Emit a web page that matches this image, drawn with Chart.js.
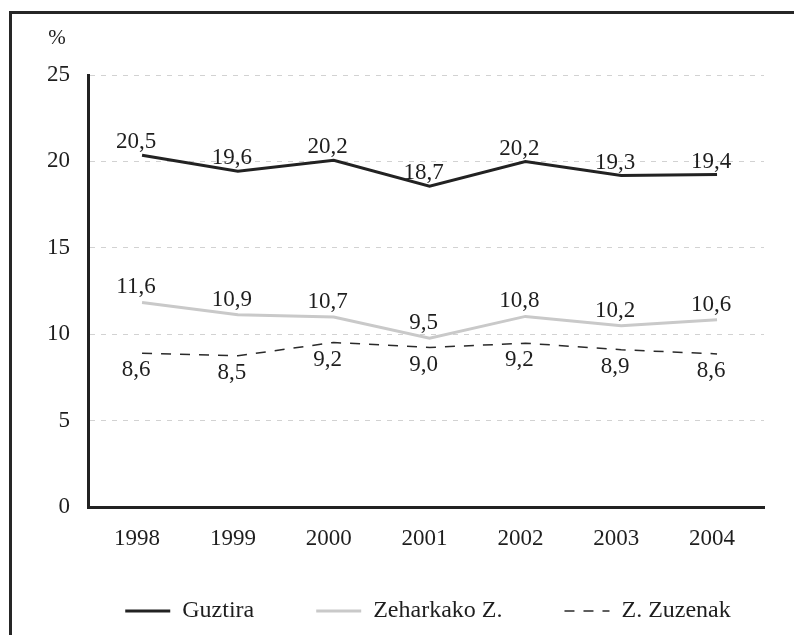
<!DOCTYPE html>
<html>
<head>
<meta charset="utf-8">
<script src="https://cdn.jsdelivr.net/npm/chart.js@4.4.1/dist/chart.umd.min.js"></script>
<style>
  html, body { margin: 0; padding: 0; background: #fff; overflow: hidden; }
  #frame { position: absolute; left: 9px; top: 11px; width: 2000px; height: 2000px;
           border-left: 3px solid #262626; border-top: 3px solid #262626; }
  #insertchart { position: absolute; left: 0; top: 0; }
</style>
</head>
<body>
<div id="frame"></div>
<canvas id="insertchart" width="794" height="635"></canvas>
<script>
var years = [1998, 1999, 2000, 2001, 2002, 2003, 2004];
// where the lines sit in the picture
var guztira    = [20.35, 19.43, 20.06, 18.56, 19.99, 19.18, 19.24];
var zeharkako  = [11.84, 11.12, 10.99, 9.77, 11.03, 10.49, 10.83];
var zuzenak    = [8.90, 8.75, 9.52, 9.23, 9.48, 9.10, 8.86];
// the printed values
var guztiraLbl   = [20.5, 19.6, 20.2, 18.7, 20.2, 19.3, 19.4];
var zeharkakoLbl = [11.6, 10.9, 10.7, 9.5, 10.8, 10.2, 10.6];
var zuzenakLbl   = [8.6, 8.5, 9.2, 9.0, 9.2, 8.9, 8.6];
var yTicks = [0, 5, 10, 15, 20, 25];

var serif = "'Liberation Serif', 'DejaVu Serif', serif";

function pts(vals) {
  return vals.map(function (v, i) { return {x: years[i], y: v}; });
}
function fmt(v) { return v.toFixed(1).replace('.', ','); }

var valueLabels = {
  id: 'valueLabels',
  afterDatasetsDraw: function (chart) {
    var ctx = chart.ctx;
    var sets = [guztiraLbl, zeharkakoLbl, zuzenakLbl];
    var dy = [-13, -15, 17];
    ctx.save();
    ctx.font = '23px ' + serif;
    ctx.fillStyle = '#1e1e1e';
    ctx.textAlign = 'center';
    ctx.textBaseline = 'middle';
    sets.forEach(function (lbls, d) {
      chart.getDatasetMeta(d).data.forEach(function (el, i) {
        ctx.fillText(fmt(lbls[i]), el.x - 6, el.y + dy[d]);
      });
    });
    // unit over the y axis
    ctx.font = '21px ' + serif;
    ctx.fillText('%', 57, 38);
    ctx.restore();
  }
};

// move the legend row to the right like the original, and give the
// year labels room so they are not clipped
var layoutFix = {
  id: 'layoutFix',
  afterLayout: function (chart) {
    chart.legend.left += 46;
    chart.legend.right += 46;
    chart.scales.x.bottom = chart.scales.x.top + 60;
  }
};

var ctx = document.getElementById("insertchart").getContext('2d');
var myLineChart = new Chart(ctx, {
  type: 'line',
  data: {
    datasets: [{
      label: "Guztira",
      data: pts(guztira),
      borderColor: '#222',
      backgroundColor: '#222',
      borderWidth: 3
    }, {
      label: "Zeharkako Z.",
      data: pts(zeharkako),
      borderColor: '#c9c9c9',
      backgroundColor: '#c9c9c9',
      borderWidth: 3
    }, {
      label: "Z. Zuzenak",
      data: pts(zuzenak),
      borderColor: '#2a2a2a',
      backgroundColor: '#2a2a2a',
      borderWidth: 1.5,
      borderDash: [10, 9]
    }]
  },
  options: {
    responsive: false,
    animation: false,
    events: [],
    elements: { point: { radius: 0 }, line: { tension: 0 } },
    layout: { padding: { left: 0, top: 75, right: 30, bottom: 2 } },
    scales: {
      x: {
        type: 'linear',
        min: 1997.436,
        max: 2004.49,
        afterBuildTicks: function (s) { s.ticks = years.map(function (v) { return {value: v}; }); },
        afterFit: function (s) { s.height = 30; },
        grid: { display: false, drawTicks: false },
        border: { display: true, color: '#222', width: 3 },
        ticks: {
          callback: function (v) { return String(v); },
          font: { family: serif, size: 23 },
          color: '#1e1e1e',
          padding: 18,
          labelOffset: -5,
          maxRotation: 0,
          autoSkip: false
        }
      },
      y: {
        min: 0,
        max: 25,
        afterBuildTicks: function (s) { s.ticks = yTicks.map(function (v) { return {value: v}; }); },
        afterFit: function (s) { s.width = 88; },
        grid: {
          drawTicks: false,
          color: function (c) { return c.tick && c.tick.value === 0 ? 'rgba(0,0,0,0)' : '#d2d2d2'; },
          lineWidth: 1
        },
        border: { display: true, color: '#222', width: 3, dash: [5, 6] },
        ticks: {
          font: { family: serif, size: 23 },
          color: '#1e1e1e',
          padding: 18
        }
      }
    },
    plugins: {
      legend: {
        position: 'bottom',
        labels: {
          font: { family: serif, size: 24 },
          color: '#1e1e1e',
          usePointStyle: true,
          pointStyle: 'line',
          pointStyleWidth: 45,
          boxWidth: 45,
          boxHeight: 10,
          padding: 62,
          generateLabels: function (chart) {
            var items = Chart.defaults.plugins.legend.labels.generateLabels(chart);
            items.forEach(function (it) {
              var ds = chart.data.datasets[it.datasetIndex];
              it.lineWidth = ds.borderWidth;
              it.lineDash = ds.borderDash || [];
              it.strokeStyle = ds.borderColor;
              it.pointStyle = 'line';
            });
            return items;
          }
        }
      },
      tooltip: { enabled: false },
      title: { display: false }
    }
  },
  plugins: [valueLabels, layoutFix]
});
</script>
</body>
</html>
